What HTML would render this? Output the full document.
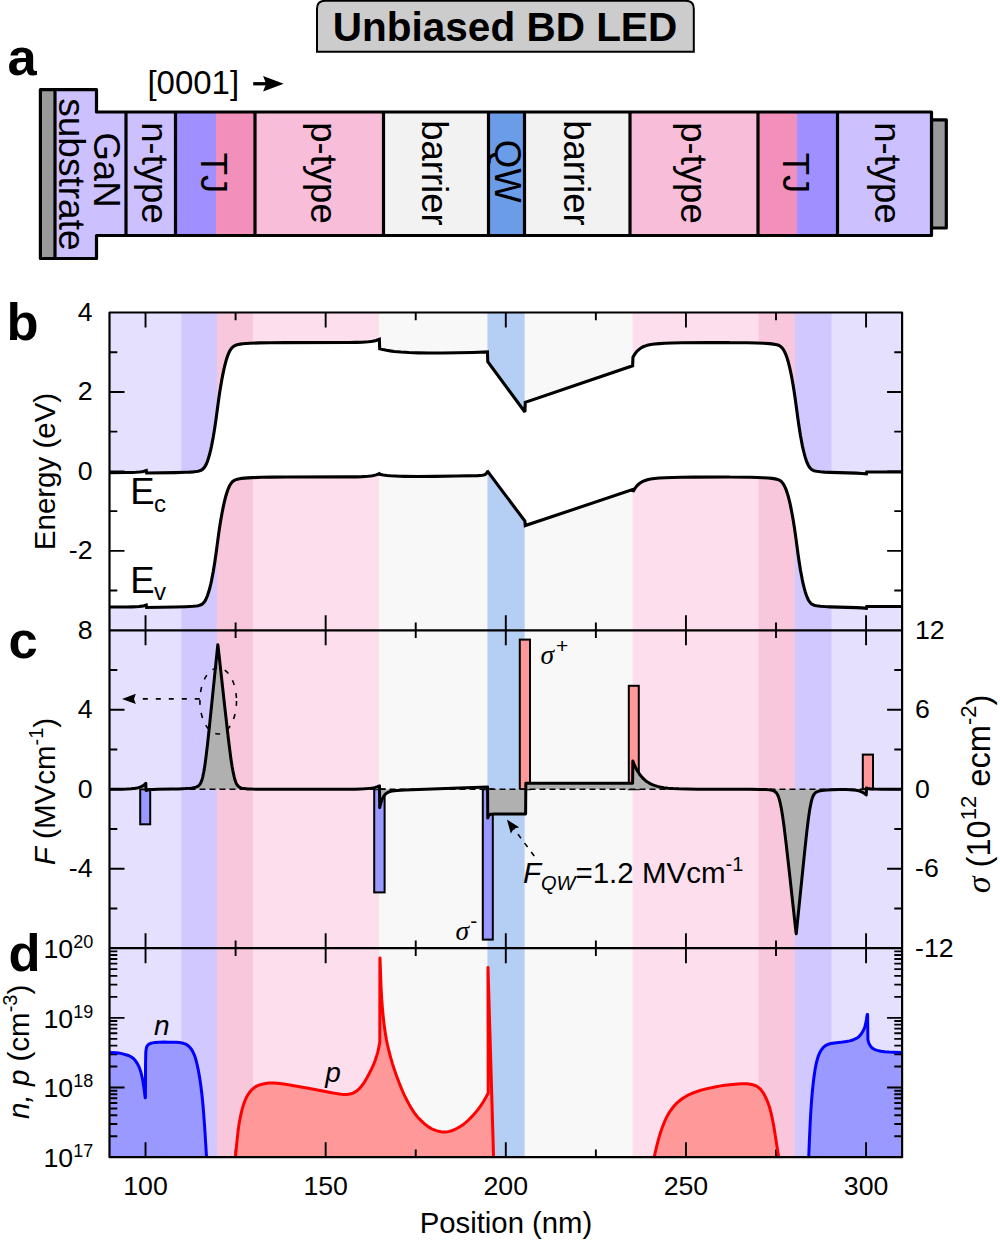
<!DOCTYPE html>
<html><head><meta charset="utf-8"><title>Unbiased BD LED</title>
<style>html,body{margin:0;padding:0;background:#fff;}svg{display:block;}</style>
</head><body>
<svg width="1000" height="1243" viewBox="0 0 1000 1243" font-family="Liberation Sans, sans-serif">
<rect x="0" y="0" width="1000" height="1243" fill="#ffffff"/>
<path d="M317 51.8 L317 9 Q317 0.8 325 0.8 L685.8 0.8 Q693.8 0.8 693.8 9 L693.8 51.8 Z" fill="#cccccc" stroke="#000" stroke-width="2"/>
<text x="505" y="41" font-size="40.5" font-weight="bold" text-anchor="middle">Unbiased BD LED</text>
<text x="7.6" y="75" font-size="52.5" font-weight="bold">a</text>
<text x="6.6" y="340" font-size="52.5" font-weight="bold">b</text>
<text x="8.5" y="658" font-size="52.5" font-weight="bold">c</text>
<text x="8.5" y="970.5" font-size="52.5" font-weight="bold">d</text>
<text x="147.4" y="93.6" font-size="33">[0001]</text>
<path d="M253.2 83.75 L267 83.75" stroke="#000" stroke-width="3.3" fill="none"/>
<path d="M283.7 83.75 L263.1 76 L266.1 83.75 L263.1 91.5 Z" fill="#000"/>
<rect x="931.5" y="119.8" width="14.8" height="108.2" fill="#999999" stroke="#000" stroke-width="3.2" stroke-linejoin="round"/>
<rect x="126" y="112" width="49.5" height="123.5" fill="#ccc0ff"/>
<rect x="175.5" y="112" width="40.5" height="123.5" fill="#a090ff"/>
<rect x="216" y="112" width="39" height="123.5" fill="#f28fba"/>
<rect x="255" y="112" width="128.5" height="123.5" fill="#f8bdd8"/>
<rect x="383.5" y="112" width="105" height="123.5" fill="#f2f2f2"/>
<rect x="488.5" y="112" width="36" height="123.5" fill="#6b9ce8"/>
<rect x="524.5" y="112" width="105.5" height="123.5" fill="#f2f2f2"/>
<rect x="630" y="112" width="128" height="123.5" fill="#f8bdd8"/>
<rect x="758" y="112" width="39" height="123.5" fill="#f28fba"/>
<rect x="797" y="112" width="40.5" height="123.5" fill="#a090ff"/>
<rect x="837.5" y="112" width="94" height="123.5" fill="#ccc0ff"/>
<path d="M55 90 L96.5 90 L96.5 112 L126 112 L126 235.5 L96.5 235.5 L96.5 258.5 L55 258.5 Z" fill="#ccc0ff"/>
<rect x="41" y="90" width="14" height="168.5" fill="#999999"/>
<path d="M40.4 89.6 L96.5 89.6 L96.5 112 L931.5 112 L931.5 235.5 L96.5 235.5 L96.5 258.5 L40.4 258.5 Z" fill="none" stroke="#000" stroke-width="3.2" stroke-linejoin="round"/>
<path d="M55 90 L55 258.5" stroke="#000" stroke-width="3.2" fill="none"/>
<path d="M126 112 L126 235.5" stroke="#000" stroke-width="3.2" fill="none"/>
<path d="M175.5 112 L175.5 235.5" stroke="#000" stroke-width="3.2" fill="none"/>
<path d="M255 112 L255 235.5" stroke="#000" stroke-width="3.2" fill="none"/>
<path d="M383.5 112 L383.5 235.5" stroke="#000" stroke-width="3.2" fill="none"/>
<path d="M488.5 112 L488.5 235.5" stroke="#000" stroke-width="3.2" fill="none"/>
<path d="M524.5 112 L524.5 235.5" stroke="#000" stroke-width="3.2" fill="none"/>
<path d="M630 112 L630 235.5" stroke="#000" stroke-width="3.2" fill="none"/>
<path d="M758 112 L758 235.5" stroke="#000" stroke-width="3.2" fill="none"/>
<path d="M837.5 112 L837.5 235.5" stroke="#000" stroke-width="3.2" fill="none"/>
<text transform="translate(59 174.4) rotate(90)" font-size="37.1" text-anchor="middle">substrate</text>
<text transform="translate(94 170) rotate(90)" font-size="36.5" text-anchor="middle">GaN</text>
<text transform="translate(141.5 172.95) rotate(90)" font-size="36.5" text-anchor="middle">n-type</text>
<text transform="translate(200.5 172.95) rotate(90)" font-size="36.5" text-anchor="middle">TJ</text>
<text transform="translate(310.5 172.95) rotate(90)" font-size="36.5" text-anchor="middle">p-type</text>
<text transform="translate(422.2 172.95) rotate(90)" font-size="36.5" text-anchor="middle">barrier</text>
<text transform="translate(494.5 171.25) rotate(90)" font-size="36.5" text-anchor="middle">QW</text>
<text transform="translate(563.5 172.95) rotate(90)" font-size="36.5" text-anchor="middle">barrier</text>
<text transform="translate(681 172.95) rotate(90)" font-size="36.5" text-anchor="middle">p-type</text>
<text transform="translate(783 172.95) rotate(90)" font-size="36.5" text-anchor="middle">TJ</text>
<text transform="translate(874.8 172.95) rotate(90)" font-size="36.5" text-anchor="middle">n-type</text>
<!-- panel backgrounds -->
<defs><clipPath id="cpb"><path d="M109.5 312.5 L109.5 472.59 L127.15 472.53 L132.2 472.44 L135.8 472.3 L139.04 472.06 L141.92 471.69 L144.09 471.25 L146.25 470.6 L146.61 473.05 L175.43 472.58 L185.52 472.29 L189.48 472.1 L193.08 471.84 L195.97 471.54 L198.13 471.19 L199.57 470.83 L201.01 470.29 L202.09 469.67 L203.17 468.78 L204.25 467.55 L205.33 465.9 L206.41 463.76 L207.49 461.09 L208.57 457.86 L209.66 454.05 L210.74 449.64 L211.46 446.36 L213.26 436.97 L214.7 428.2 L216.14 418.26 L218.66 399.43 L219.74 392.13 L220.82 385.4 L221.91 379.23 L222.99 373.63 L224.07 368.6 L225.15 364.12 L226.23 360.19 L227.31 356.8 L228.39 353.93 L229.47 351.57 L230.55 349.68 L231.27 348.64 L231.99 347.77 L232.71 347.05 L233.43 346.46 L234.87 345.59 L236.32 345.01 L238.12 344.53 L240.28 344.14 L242.8 343.82 L246.04 343.52 L249.65 343.29 L259.37 342.91 L270.18 342.7 L284.95 342.58 L349.08 342.45 L356.65 342.35 L362.41 342.18 L368.18 341.8 L370.34 341.56 L372.5 341.23 L374.3 340.87 L376.1 340.41 L377.9 339.82 L379.34 339.23 L379.7 348.68 L382.95 349.52 L386.55 350.28 L390.15 350.89 L394.12 351.42 L400.96 352.07 L408.89 352.54 L418.25 352.84 L429.06 352.98 L442.75 352.96 L457.52 352.78 L472.65 352.43 L487.43 351.95 L487.79 361.62 L524.89 412.04 L525.25 402.32 L632.62 365.79 L632.98 357.28 L634.06 355.32 L635.5 353.15 L636.58 351.79 L638.02 350.28 L639.1 349.34 L640.54 348.28 L641.98 347.41 L643.78 346.54 L645.59 345.85 L647.39 345.31 L650.63 344.59 L654.59 344.02 L659.28 343.59 L665.4 343.24 L672.97 342.99 L683.05 342.79 L711.52 342.57 L729.17 342.53 L729.53 342.58 L747.9 342.76 L758.35 343.02 L764.84 343.31 L770.24 343.72 L774.2 344.21 L775.64 344.48 L777.09 344.83 L778.17 345.19 L779.25 345.66 L779.97 346.06 L780.69 346.56 L781.41 347.18 L782.13 347.93 L782.85 348.83 L783.57 349.9 L784.29 351.15 L785.01 352.61 L786.09 355.2 L787.53 359.46 L788.61 363.28 L790.06 369.23 L791.14 374.34 L792.22 380.02 L793.3 386.25 L794.38 393.06 L795.46 400.43 L797.98 419.3 L799.06 426.77 L800.5 435.72 L801.94 443.53 L802.66 447.03 L803.75 451.76 L804.47 454.58 L805.55 458.32 L806.27 460.48 L807.35 463.26 L808.43 465.5 L809.51 467.24 L810.23 468.16 L811.31 469.22 L812.03 469.75 L813.11 470.35 L814.19 470.76 L815.63 471.14 L818.88 471.63 L822.84 471.99 L827.88 472.27 L854.54 473.08 L861.03 473.39 L866.43 473.77 L866.79 471.99 L902.1 472 L902.1 312.5 Z"/><path d="M109.5 630.3 L109.5 607.06 L127.15 607 L132.2 606.91 L135.8 606.77 L139.04 606.53 L141.92 606.16 L144.09 605.72 L146.25 605.07 L146.61 607.52 L176.51 607.02 L187.32 606.68 L191.28 606.45 L194.52 606.17 L197.05 605.85 L198.85 605.5 L200.29 605.06 L201.73 604.37 L202.81 603.58 L203.89 602.47 L204.97 600.97 L206.05 599 L207.13 596.51 L207.85 594.55 L208.94 591.13 L210.02 587.11 L211.1 582.5 L211.82 579.09 L213.26 571.44 L214.7 562.66 L216.14 552.73 L218.66 533.9 L219.74 526.6 L220.82 519.87 L221.91 513.7 L222.99 508.1 L224.07 503.07 L225.15 498.59 L226.23 494.66 L227.31 491.27 L228.39 488.4 L229.11 486.78 L229.83 485.36 L230.91 483.61 L231.63 482.66 L232.35 481.86 L233.07 481.21 L233.79 480.67 L235.24 479.89 L236.68 479.37 L238.48 478.92 L240.64 478.56 L243.16 478.25 L246.4 477.97 L250.37 477.72 L260.09 477.36 L270.9 477.16 L285.67 477.04 L349.08 476.91 L356.65 476.82 L362.41 476.65 L368.18 476.27 L370.34 476.03 L372.5 475.7 L374.3 475.34 L376.1 474.88 L377.9 474.29 L379.34 473.7 L379.7 474.4 L383.31 474.98 L386.91 475.42 L390.51 475.75 L394.84 476.02 L399.52 476.22 L404.92 476.37 L417.53 476.47 L434.11 476.38 L456.44 476.05 L477.7 475.6 L480.22 475.49 L482.02 475.33 L483.46 475.08 L484.54 474.72 L485.26 474.35 L485.98 473.79 L486.71 472.98 L487.43 471.77 L487.79 471.65 L524.89 521.05 L525.25 525.59 L632.62 489.58 L632.98 491.71 L634.42 489.17 L635.14 488.09 L636.22 486.67 L636.94 485.83 L638.02 484.73 L639.82 483.23 L640.9 482.5 L641.98 481.87 L643.06 481.32 L644.5 480.7 L645.95 480.2 L647.39 479.77 L650.63 479.06 L654.59 478.48 L659.28 478.05 L665.04 477.72 L672.61 477.47 L681.97 477.28 L694.22 477.14 L729.17 477 L729.53 477.05 L741.78 477.14 L751.51 477.3 L758.35 477.49 L764.12 477.74 L769.16 478.09 L773.12 478.52 L776 479.03 L778.17 479.65 L779.25 480.12 L779.97 480.53 L780.69 481.03 L781.41 481.65 L782.13 482.4 L782.85 483.3 L783.93 484.97 L784.65 486.32 L785.37 487.89 L786.45 490.65 L787.53 493.93 L788.61 497.75 L790.06 503.7 L791.14 508.81 L792.22 514.48 L793.3 520.72 L794.38 527.53 L795.46 534.9 L797.98 553.77 L799.06 561.24 L800.5 570.19 L802.3 579.78 L803.02 583.14 L804.11 587.67 L804.83 590.36 L805.91 593.9 L806.63 595.94 L807.71 598.53 L808.79 600.6 L809.87 602.19 L810.95 603.37 L812.03 604.22 L813.47 604.97 L814.91 605.44 L817.08 605.87 L819.6 606.18 L823.2 606.48 L827.52 606.73 L833.65 606.96 L854.54 607.55 L861.03 607.86 L866.43 608.24 L866.79 606.46 L902.1 606.46 L902.1 630.3 Z"/></clipPath></defs>
<g clip-path="url(#cpb)">
<rect x="109.5" y="312.5" width="71.7" height="317.8" fill="#e6e0ff"/>
<rect x="181.2" y="312.5" width="35.8" height="317.8" fill="#d0c8ff"/>
<rect x="217" y="312.5" width="36.4" height="317.8" fill="#f8c7dc"/>
<rect x="253.4" y="312.5" width="125.9" height="317.8" fill="#fcdeec"/>
<rect x="379.3" y="312.5" width="108.1" height="317.8" fill="#f8f8f8"/>
<rect x="487.4" y="312.5" width="37.4" height="317.8" fill="#b5cef4"/>
<rect x="524.8" y="312.5" width="107.8" height="317.8" fill="#f8f8f8"/>
<rect x="632.6" y="312.5" width="125.7" height="317.8" fill="#fcdeec"/>
<rect x="758.3" y="312.5" width="36.7" height="317.8" fill="#f8c7dc"/>
<rect x="795" y="312.5" width="36.8" height="317.8" fill="#d0c8ff"/>
<rect x="831.8" y="312.5" width="70.3" height="317.8" fill="#e6e0ff"/>
</g>
<rect x="109.5" y="630.3" width="71.7" height="526.9" fill="#e6e0ff"/>
<rect x="181.2" y="630.3" width="35.8" height="526.9" fill="#d0c8ff"/>
<rect x="217" y="630.3" width="36.4" height="526.9" fill="#f8c7dc"/>
<rect x="253.4" y="630.3" width="125.9" height="526.9" fill="#fcdeec"/>
<rect x="379.3" y="630.3" width="108.1" height="526.9" fill="#f8f8f8"/>
<rect x="487.4" y="630.3" width="37.4" height="526.9" fill="#b5cef4"/>
<rect x="524.8" y="630.3" width="107.8" height="526.9" fill="#f8f8f8"/>
<rect x="632.6" y="630.3" width="125.7" height="526.9" fill="#fcdeec"/>
<rect x="758.3" y="630.3" width="36.7" height="526.9" fill="#f8c7dc"/>
<rect x="795" y="630.3" width="36.8" height="526.9" fill="#d0c8ff"/>
<rect x="831.8" y="630.3" width="70.3" height="526.9" fill="#e6e0ff"/>
<rect x="140.2" y="789.25" width="10" height="35.05" fill="#9999ff" stroke="#000" stroke-width="2"/>
<rect x="374.2" y="789.25" width="10.4" height="103.15" fill="#9999ff" stroke="#000" stroke-width="2"/>
<rect x="482.8" y="789.25" width="10" height="150.35" fill="#9999ff" stroke="#000" stroke-width="2"/>
<rect x="519.8" y="639.6" width="10.2" height="149.65" fill="#ff9999" stroke="#000" stroke-width="2"/>
<rect x="628.8" y="685.8" width="10" height="103.45" fill="#ff9999" stroke="#000" stroke-width="2"/>
<rect x="862.8" y="754.6" width="10.2" height="34.65" fill="#ff9999" stroke="#000" stroke-width="2"/>
<path d="M109.5 789.25 L120.31 789.18 L126.58 789.04 L131.33 788.77 L135.22 788.31 L136.95 787.98 L138.47 787.6 L139.98 787.1 L141.28 786.56 L142.57 785.89 L143.65 785.19 L144.73 784.36 L145.82 783.35 L146.03 790.57 L147.54 790.11 L149.06 789.81 L151 789.56 L153.17 789.41 L157.49 789.26 L171.32 789.09 L178.67 788.91 L185.37 788.59 L190.56 788.14 L192.51 787.88 L194.24 787.57 L195.53 787.25 L196.61 786.88 L197.48 786.48 L198.34 785.94 L199.21 785.17 L199.86 784.38 L200.72 782.94 L201.37 781.48 L202.23 778.85 L202.88 776.28 L203.75 772.04 L204.4 768.38 L205.04 764.17 L205.91 757.82 L207.42 745.16 L209.37 727.21 L217.8 644.72 L218.01 645.7 L224.93 708.43 L228.17 736.98 L230.34 754.45 L231.2 760.67 L232.06 766.24 L232.93 771.02 L234.23 777.14 L235.09 780.28 L235.52 781.54 L236.17 783.11 L236.6 783.97 L237.25 785.02 L237.9 785.83 L238.55 786.47 L239.2 786.96 L240.06 787.46 L240.93 787.83 L242.01 788.16 L244.39 788.6 L247.84 788.92 L252.38 789.1 L258.65 789.2 L332.58 789.25 L355.28 789.13 L360.25 789.02 L364.14 788.85 L367.6 788.61 L370.41 788.31 L373 787.9 L375.38 787.37 L377.54 786.71 L379.49 785.92 L379.7 807.64 L380.57 804.08 L381.65 800.66 L382.3 799.04 L382.95 797.69 L383.6 796.55 L384.24 795.59 L384.89 794.78 L385.76 793.9 L386.62 793.2 L387.49 792.64 L388.57 792.09 L389.65 791.67 L390.95 791.29 L392.24 791 L394.4 790.67 L397 790.41 L405 789.96 L459.04 788.09 L487.57 786.91 L487.79 818.12 L488 817.26 L488.43 816.05 L488.65 815.63 L489.08 815.04 L489.52 814.68 L489.95 814.45 L490.6 814.26 L491.24 814.17 L494.49 814.09 L525.61 814.09 L525.83 783.29 L632.62 783.29 L632.83 761.12 L633.91 763.8 L635.21 766.68 L636.51 769.23 L637.8 771.49 L639.1 773.5 L640.61 775.56 L642.13 777.35 L643.64 778.9 L645.37 780.43 L647.1 781.74 L648.83 782.85 L650.77 783.9 L652.94 784.87 L655.1 785.66 L657.47 786.37 L659.85 786.94 L663.74 787.64 L668.07 788.17 L673.04 788.57 L679.09 788.86 L687.09 789.06 L697.9 789.18 L749.56 789.27 L761.02 789.38 L765.99 789.57 L769.45 789.87 L770.74 790.06 L772.04 790.34 L773.12 790.67 L773.99 791.04 L774.85 791.54 L775.5 792.03 L776.15 792.67 L776.8 793.48 L777.45 794.53 L777.88 795.39 L778.74 797.56 L779.61 800.49 L780.26 803.26 L781.34 808.59 L782.42 814.95 L783.28 820.86 L784.15 827.35 L786.09 843.36 L789.33 872.02 L796.04 932.8 L796.25 933.78 L804.68 851.29 L806.63 833.35 L808.14 820.68 L809.01 814.33 L809.65 810.12 L810.3 806.46 L811.17 802.22 L811.82 799.65 L812.68 797.03 L813.33 795.56 L814.19 794.12 L814.84 793.33 L815.49 792.73 L816.14 792.27 L817 791.8 L818.08 791.38 L819.17 791.08 L821.98 790.56 L826.51 790.07 L832.35 789.72 L839.27 789.53 L845.97 789.54 L850.08 789.67 L853.32 789.91 L856.13 790.28 L858.72 790.83 L860.88 791.53 L862.83 792.43 L864.56 793.53 L865.42 794.21 L866.29 795.01 L866.51 787.88 L868.02 788.35 L869.96 788.73 L872.13 788.97 L874.72 789.11 L882.07 789.23 L902.1 789.25 Z" fill="#b0b0b0"/>
<path d="M109.5 789.25 L902.1 789.25" stroke="#000" stroke-width="1.3" stroke-dasharray="6 4" fill="none"/>
<path d="M109.5 789.24 L120.09 789.18 L126.58 789.04 L131.33 788.77 L135.22 788.31 L136.95 787.98 L138.47 787.6 L139.98 787.1 L141.28 786.56 L142.57 785.89 L143.65 785.19 L144.73 784.36 L145.82 783.35 L146.03 790.57 L147.54 790.11 L149.06 789.81 L151 789.56 L153.17 789.41 L157.49 789.26 L171.32 789.09 L178.67 788.91 L185.37 788.59 L190.56 788.14 L192.51 787.88 L194.24 787.57 L195.53 787.25 L196.61 786.88 L197.48 786.48 L198.34 785.94 L199.21 785.17 L199.86 784.38 L200.72 782.94 L201.37 781.48 L202.23 778.85 L202.88 776.28 L203.75 772.04 L204.4 768.38 L205.04 764.17 L205.91 757.82 L207.42 745.16 L209.37 727.21 L217.8 644.72 L218.01 645.7 L224.93 708.43 L228.17 736.98 L230.34 754.45 L231.2 760.67 L232.06 766.24 L232.93 771.02 L234.23 777.14 L235.09 780.28 L235.52 781.54 L236.17 783.11 L236.6 783.97 L237.25 785.02 L237.9 785.83 L238.55 786.47 L239.2 786.96 L240.06 787.46 L240.93 787.83 L242.01 788.16 L244.39 788.6 L247.84 788.92 L252.38 789.1 L258.65 789.2 L332.58 789.25 L355.28 789.13 L360.25 789.02 L364.14 788.85 L367.6 788.61 L370.41 788.31 L373 787.9 L375.38 787.37 L377.54 786.71 L379.49 785.92 L379.7 807.64 L380.57 804.08 L381.65 800.66 L382.3 799.04 L382.95 797.69 L383.6 796.55 L384.24 795.59 L384.89 794.78 L385.76 793.9 L386.62 793.2 L387.49 792.64 L388.57 792.09 L389.65 791.67 L390.95 791.29 L392.24 791 L394.4 790.67 L397 790.41 L405 789.96 L459.04 788.09 L487.57 786.91 L487.79 818.12 L488 817.26 L488.43 816.05 L488.65 815.63 L489.08 815.04 L489.52 814.68 L489.95 814.45 L490.6 814.26 L491.24 814.17 L494.49 814.09 L525.61 814.09 L525.83 783.29 L632.62 783.29 L632.83 761.12 L633.91 763.8 L635.21 766.68 L636.51 769.23 L637.8 771.49 L639.1 773.5 L640.61 775.56 L642.13 777.35 L643.64 778.9 L645.37 780.43 L647.1 781.74 L648.83 782.85 L650.77 783.9 L652.94 784.87 L655.1 785.66 L657.47 786.37 L659.85 786.94 L663.74 787.64 L668.07 788.17 L673.04 788.57 L679.09 788.86 L687.09 789.06 L697.9 789.18 L749.56 789.27 L761.02 789.38 L765.99 789.57 L769.45 789.87 L770.74 790.06 L772.04 790.34 L773.12 790.67 L773.99 791.04 L774.85 791.54 L775.5 792.03 L776.15 792.67 L776.8 793.48 L777.45 794.53 L777.88 795.39 L778.74 797.56 L779.61 800.49 L780.26 803.26 L781.34 808.59 L782.42 814.95 L783.28 820.86 L784.15 827.35 L786.09 843.36 L789.33 872.02 L796.04 932.8 L796.25 933.78 L804.68 851.29 L806.63 833.35 L808.14 820.68 L809.01 814.33 L809.65 810.12 L810.3 806.46 L811.17 802.22 L811.82 799.65 L812.68 797.03 L813.33 795.56 L814.19 794.12 L814.84 793.33 L815.49 792.73 L816.14 792.27 L817 791.8 L818.08 791.38 L819.17 791.08 L821.98 790.56 L826.51 790.07 L832.35 789.72 L839.27 789.53 L845.97 789.54 L850.08 789.67 L853.32 789.91 L856.13 790.28 L858.72 790.83 L860.88 791.53 L862.83 792.43 L864.56 793.53 L865.42 794.21 L866.29 795.01 L866.51 787.88 L868.02 788.35 L869.96 788.73 L872.13 788.97 L874.72 789.11 L881.85 789.23 L901.96 789.25" fill="none" stroke="#000" stroke-width="3" stroke-linejoin="round"/>
<ellipse cx="218.2" cy="701" rx="18.3" ry="33" fill="none" stroke="#000" stroke-width="1.6" stroke-dasharray="5 8"/>
<path d="M199.8 698.9 L136 698.9" stroke="#000" stroke-width="1.6" stroke-dasharray="5 8" fill="none"/>
<path d="M122 698.9 L135.8 693.7 L134 698.9 L135.8 704.1 Z" fill="#000"/>
<path d="M534.2 855.9 L512.5 827" stroke="#000" stroke-width="1.6" stroke-dasharray="5 6" fill="none"/>
<path d="M506.9 819.5 L519.16 827.18 L513.8 828.7 L510.84 833.42 Z" fill="#000"/>
<text x="523" y="882.6" font-size="29.5"><tspan font-style="italic">F</tspan><tspan font-style="italic" font-size="20" dy="7.5">QW</tspan><tspan dy="-7.5">=1.2 MVcm</tspan><tspan font-size="20" dy="-12">-1</tspan></text>
<text x="540.5" y="663.6" font-size="27.5" font-style="italic" font-family="Liberation Serif, serif">σ</text><text x="556" y="652.5" font-size="21">+</text>
<text x="455.5" y="940" font-size="27.5" font-style="italic" font-family="Liberation Serif, serif">σ</text><text x="470.3" y="928" font-size="21">-</text>
<defs><clipPath id="cpd"><rect x="109.5" y="948.2" width="792.6" height="210.5"/></clipPath></defs>
<g clip-path="url(#cpd)">
<path d="M109.5 1157.2 L109.5 1052.6 L115.85 1052.83 L118.59 1053.07 L121.7 1053.63 L126.62 1054.93 L128.24 1055.48 L129.37 1055.97 L130.79 1056.7 L131.78 1057.3 L132.7 1057.97 L133.56 1058.69 L134.35 1059.46 L135.31 1060.58 L136.23 1061.82 L137.1 1063.18 L137.92 1064.64 L138.69 1066.2 L139.38 1067.84 L140.03 1069.59 L140.81 1072 L141.39 1074.11 L142.32 1078.09 L143.1 1082.5 L144.2 1089.77 L145.2 1097.8 L145.4 1097.5 L145.54 1065.15 L145.73 1054.11 L145.84 1051.75 L146.03 1050.12 L146.41 1047.91 L146.75 1046.74 L147.03 1046.17 L147.37 1045.7 L148.24 1044.76 L148.75 1044.33 L149.31 1043.96 L149.94 1043.65 L150.67 1043.37 L152 1043 L154.22 1042.61 L156.89 1042.36 L160.87 1042.17 L165.88 1042.1 L170.07 1042.14 L174.72 1042.29 L177.34 1042.41 L179.79 1042.63 L181.3 1042.85 L183.3 1043.33 L185.03 1043.89 L186.08 1044.36 L187.54 1045.24 L188.97 1046.43 L189.89 1047.38 L191.19 1049 L192 1050.22 L193.14 1052.26 L193.85 1053.76 L194.8 1056.19 L195.65 1058.86 L196.73 1062.9 L197.53 1066.33 L198.56 1071.44 L199.3 1075.6 L200.23 1081.52 L200.9 1086.3 L201.74 1093.04 L202.85 1103.57 L203.76 1114.74 L204.67 1127.23 L206.6 1158 L206.6 1157.2 Z" fill="#9999ff"/>
<path d="M235.3 1157.2 L235.3 1158 L236.57 1144.92 L237.77 1133.96 L238.3 1129.43 L238.91 1124.94 L239.67 1120.53 L240.9 1114.54 L241.93 1110.19 L243.03 1106.2 L244.15 1102.77 L245.32 1099.79 L246.56 1097.15 L247.45 1095.53 L248.4 1094 L249.95 1091.88 L251.06 1090.6 L252.2 1089.43 L253.39 1088.38 L254.59 1087.43 L256.43 1086.25 L258.32 1085.37 L260.27 1084.7 L263.7 1083.84 L266.46 1083.33 L268.66 1083.1 L271.11 1083 L273.91 1083.06 L277.03 1083.27 L283.83 1084.04 L289.67 1084.92 L308.23 1088.31 L321.43 1090.77 L330.41 1092.52 L333.87 1093.13 L339.33 1093.97 L342.36 1094.38 L344.28 1094.53 L346.11 1094.55 L348.69 1094.3 L351.04 1093.8 L353.22 1093.03 L355.31 1091.94 L356.68 1091.02 L357.35 1090.5 L359.28 1088.7 L361.13 1086.61 L363.5 1083.5 L364.67 1081.76 L365.82 1079.85 L368.03 1075.81 L371.66 1068.72 L373.09 1065.67 L374.08 1063.32 L375.04 1060.79 L375.97 1058.11 L377.58 1052.82 L378.4 1049.47 L379.6 1043.2 L379.8 1043 L379.9 958 L380 958 L381.1 987.81 L381.66 998.19 L382.25 1006 L383.13 1015.65 L383.88 1022.83 L384.59 1028.35 L385.58 1034.86 L386.49 1039.95 L387.55 1045.07 L389.06 1051.48 L390.7 1057.7 L392.42 1063.59 L394.25 1069.26 L396.53 1075.89 L398.94 1082.34 L401.59 1088.85 L403.97 1094.29 L406.03 1098.57 L408.89 1104.03 L411.25 1108.15 L413.5 1111.66 L414.57 1113.17 L416.17 1115.25 L417.82 1117.2 L419.62 1119.16 L422.91 1122.41 L425.65 1124.77 L427 1125.8 L428.98 1127.16 L430.94 1128.34 L432.26 1129.03 L435 1130.2 L437.18 1130.92 L438.68 1131.32 L440.96 1131.76 L442.49 1131.94 L444.75 1131.99 L446.23 1131.89 L447.7 1131.69 L449.18 1131.39 L450.68 1130.99 L452.21 1130.49 L453.8 1129.88 L455.48 1129.13 L457.2 1128.26 L460.62 1126.28 L463.74 1124.16 L465.87 1122.44 L468.51 1119.99 L472.76 1115.67 L475.5 1112.59 L478.12 1109.33 L480.67 1105.81 L483.5 1101.5 L485.33 1098.35 L488.2 1093 L488 967.5 L493.6 1157.2 Z" fill="#ff9999"/>
<path d="M654 1157.2 L654 1158 L656.71 1146.16 L658.55 1139.16 L659.91 1134.42 L661 1131 L662.18 1127.68 L663.87 1123.35 L665.16 1120.33 L666.41 1117.65 L667.98 1114.65 L669.19 1112.65 L671 1110 L673.07 1107.25 L675.37 1104.56 L677.31 1102.62 L679.47 1100.77 L681.85 1098.98 L684.41 1097.27 L687.09 1095.69 L689.88 1094.27 L692.86 1093 L695.93 1091.86 L700 1090.5 L703.05 1089.62 L707.14 1088.65 L716.16 1086.72 L719.34 1086.12 L722.99 1085.56 L729.59 1084.73 L735 1084.2 L740.83 1083.8 L745.07 1083.69 L747.11 1083.76 L748.77 1083.93 L750.19 1084.18 L752.91 1084.82 L754.61 1085.3 L755.81 1085.77 L756.6 1086.17 L757.78 1086.92 L758.94 1087.82 L760.06 1088.87 L761.14 1090.07 L762.53 1091.86 L763.52 1093.35 L764.5 1095.04 L766.19 1098.47 L767.94 1102.64 L769.28 1106.47 L770.51 1110.76 L771.92 1116.76 L773 1122 L774.04 1127.74 L778.8 1158 L778.8 1157.2 Z" fill="#ff9999"/>
<path d="M808.7 1157.2 L809.5 1138 L810.55 1116.17 L811.57 1100.62 L812.5 1090 L813.26 1082.93 L813.88 1077.74 L814.77 1071.42 L815.46 1067.37 L816.41 1062.75 L817.17 1059.73 L818 1057 L818.91 1054.56 L819.55 1053.12 L820.56 1051.2 L821.63 1049.52 L822.75 1048.05 L823.52 1047.23 L824.72 1046.19 L826.04 1045.32 L827.51 1044.56 L828.61 1044.16 L829.77 1043.82 L834 1043 L835.75 1042.76 L840.42 1042.37 L843.97 1041.9 L847.45 1041.31 L850.62 1040.6 L853.07 1039.87 L855.34 1038.9 L857.04 1037.99 L858.62 1036.84 L859.37 1036.13 L860.11 1035.32 L860.81 1034.44 L861.81 1033 L863.26 1030.5 L864.39 1028.03 L865.15 1025.8 L865.85 1022.92 L866.35 1020.08 L867.2 1014.5 L867.6 1014.5 L867.9 1040 L868 1040 L868.66 1042.43 L869.3 1044.13 L870.18 1045.57 L871.26 1046.98 L871.9 1047.63 L872.61 1048.23 L873.4 1048.75 L874.7 1049.43 L875.66 1049.82 L877.23 1050.34 L879 1050.8 L880.93 1051.19 L884.56 1051.69 L889.01 1052.07 L893.99 1052.28 L901.5 1052.5 L901.5 1157.2 Z" fill="#9999ff"/>
</g>
<text x="154" y="1035" font-size="28" font-style="italic">n</text>
<text x="325.3" y="1082" font-size="28" font-style="italic">p</text>
<defs><clipPath id="cpb2"><rect x="109.5" y="312.5" width="792.6" height="317.8"/></clipPath></defs>
<g clip-path="url(#cpb2)">
<path d="M109.5 472.59 L127.15 472.53 L132.2 472.44 L135.8 472.3 L139.04 472.06 L141.92 471.69 L144.09 471.25 L146.25 470.6 L146.61 473.05 L175.43 472.58 L185.52 472.29 L189.48 472.1 L193.08 471.84 L195.97 471.54 L198.13 471.19 L199.57 470.83 L201.01 470.29 L202.09 469.67 L203.17 468.78 L204.25 467.55 L205.33 465.9 L206.41 463.76 L207.49 461.09 L208.57 457.86 L209.66 454.05 L210.74 449.64 L211.46 446.36 L213.26 436.97 L214.7 428.2 L216.14 418.26 L218.66 399.43 L219.74 392.13 L220.82 385.4 L221.91 379.23 L222.99 373.63 L224.07 368.6 L225.15 364.12 L226.23 360.19 L227.31 356.8 L228.39 353.93 L229.47 351.57 L230.55 349.68 L231.27 348.64 L231.99 347.77 L232.71 347.05 L233.43 346.46 L234.87 345.59 L236.32 345.01 L238.12 344.53 L240.28 344.14 L242.8 343.82 L246.04 343.52 L249.65 343.29 L259.37 342.91 L270.18 342.7 L284.95 342.58 L349.08 342.45 L356.65 342.35 L362.41 342.18 L368.18 341.8 L370.34 341.56 L372.5 341.23 L374.3 340.87 L376.1 340.41 L377.9 339.82 L379.34 339.23 L379.7 348.68 L382.95 349.52 L386.55 350.28 L390.15 350.89 L394.12 351.42 L400.96 352.07 L408.89 352.54 L418.25 352.84 L429.06 352.98 L442.75 352.96 L457.52 352.78 L472.65 352.43 L487.43 351.95 L487.79 361.62 L524.89 412.04 L525.25 402.32 L632.62 365.79 L632.98 357.28 L634.06 355.32 L635.5 353.15 L636.58 351.79 L638.02 350.28 L639.1 349.34 L640.54 348.28 L641.98 347.41 L643.78 346.54 L645.59 345.85 L647.39 345.31 L650.63 344.59 L654.59 344.02 L659.28 343.59 L664.68 343.27 L671.89 343.02 L681.25 342.82 L707.19 342.59 L729.17 342.53 L729.53 342.58 L746.82 342.74 L756.55 342.96 L763.39 343.23 L769.16 343.62 L773.48 344.1 L775.28 344.41 L776.73 344.73 L777.81 345.06 L778.89 345.48 L780.33 346.3 L781.05 346.85 L781.77 347.54 L782.49 348.36 L783.21 349.34 L783.93 350.5 L784.65 351.85 L785.73 354.28 L787.17 358.31 L788.25 361.94 L789.69 367.65 L790.78 372.57 L791.86 378.06 L792.94 384.11 L794.02 390.73 L795.1 397.91 L797.98 419.3 L799.06 426.77 L800.5 435.72 L802.3 445.32 L803.02 448.67 L804.11 453.2 L805.19 457.14 L806.27 460.48 L807.35 463.26 L808.43 465.5 L809.51 467.24 L810.59 468.55 L811.31 469.22 L812.39 469.98 L813.11 470.35 L814.19 470.76 L815.27 471.06 L816.72 471.34 L820.32 471.78 L824.64 472.1 L830.05 472.36 L856.35 473.16 L861.75 473.44 L866.43 473.77 L866.79 471.99 L902.1 472" fill="none" stroke="#000" stroke-width="3.1" stroke-linejoin="miter" stroke-miterlimit="2.6"/>
<path d="M109.5 607.06 L127.15 607 L132.2 606.91 L135.8 606.77 L139.04 606.53 L141.92 606.16 L144.09 605.72 L146.25 605.07 L146.61 607.52 L175.43 607.05 L185.52 606.76 L189.48 606.56 L193.08 606.31 L195.97 606 L198.13 605.66 L199.57 605.3 L201.01 604.76 L202.09 604.14 L203.17 603.25 L204.25 602.01 L205.33 600.37 L206.41 598.23 L207.49 595.56 L208.57 592.33 L209.66 588.52 L210.74 584.11 L211.46 580.83 L213.26 571.44 L214.7 562.66 L216.14 552.73 L218.66 533.9 L219.74 526.6 L220.82 519.87 L221.91 513.7 L222.99 508.1 L224.07 503.07 L225.51 497.21 L226.59 493.47 L227.67 490.25 L228.75 487.56 L229.47 486.04 L230.19 484.73 L231.27 483.11 L231.99 482.24 L232.71 481.52 L233.43 480.93 L234.15 480.45 L234.87 480.06 L235.96 479.61 L237.4 479.17 L239.56 478.72 L241.72 478.41 L244.6 478.11 L251.81 477.65 L261.54 477.32 L272.34 477.14 L286.75 477.04 L348.72 476.92 L356.29 476.83 L362.05 476.67 L367.82 476.3 L370.34 476.03 L372.5 475.7 L374.3 475.34 L376.1 474.88 L377.9 474.29 L379.34 473.7 L379.7 474.4 L383.31 474.98 L386.91 475.42 L390.51 475.75 L394.84 476.02 L399.52 476.22 L404.92 476.37 L417.53 476.47 L434.11 476.38 L456.44 476.05 L477.7 475.6 L480.22 475.49 L482.02 475.33 L483.46 475.08 L484.54 474.72 L485.26 474.35 L485.98 473.79 L486.71 472.98 L487.43 471.77 L487.79 471.65 L524.89 521.05 L525.25 525.59 L632.62 489.58 L632.98 491.71 L634.42 489.17 L635.14 488.09 L636.22 486.67 L636.94 485.83 L638.02 484.73 L639.82 483.23 L640.9 482.5 L641.98 481.87 L643.06 481.32 L644.5 480.7 L645.95 480.2 L647.39 479.77 L650.63 479.06 L654.59 478.48 L659.28 478.05 L665.04 477.72 L672.61 477.47 L681.97 477.28 L694.22 477.14 L729.17 477 L729.53 477.05 L750.79 477.28 L757.63 477.46 L763.03 477.68 L768.08 478 L772.04 478.38 L775.28 478.88 L777.45 479.41 L779.25 480.12 L779.97 480.53 L780.69 481.03 L781.41 481.65 L782.13 482.4 L782.85 483.3 L783.57 484.37 L784.29 485.62 L785.01 487.08 L786.09 489.67 L787.53 493.93 L788.61 497.75 L790.06 503.7 L791.14 508.81 L792.22 514.48 L793.3 520.72 L794.38 527.53 L795.46 534.9 L797.98 553.77 L799.06 561.24 L800.5 570.19 L802.3 579.78 L803.02 583.14 L804.11 587.67 L805.19 591.61 L806.27 594.95 L807.35 597.73 L808.43 599.97 L809.51 601.71 L810.59 603.02 L811.31 603.69 L812.39 604.44 L813.11 604.81 L814.19 605.23 L815.27 605.52 L816.72 605.81 L820.32 606.25 L824.64 606.57 L830.05 606.83 L856.35 607.63 L861.75 607.9 L866.43 608.24 L866.79 606.46 L902.1 606.46" fill="none" stroke="#000" stroke-width="3.1" stroke-linejoin="miter" stroke-miterlimit="2.6"/>
</g>
<text x="130.3" y="504.3" font-size="36.5">E<tspan font-size="24" dy="7.5" dx="-0.7">c</tspan></text>
<text x="130.3" y="592.5" font-size="36.5">E<tspan font-size="24" dy="7.5" dx="-0.7">v</tspan></text>
<path d="M145.53 312.5 L145.53 327.5 M145.53 615.3 L145.53 645.3 M145.53 933.2 L145.53 963.2 M145.53 1142.2 L145.53 1157.2 M235.6 312.5 L235.6 320.3 M235.6 622.5 L235.6 638.1 M235.6 940.4 L235.6 956 M235.6 1149.4 L235.6 1157.2 M325.66 312.5 L325.66 327.5 M325.66 615.3 L325.66 645.3 M325.66 933.2 L325.66 963.2 M325.66 1142.2 L325.66 1157.2 M415.73 312.5 L415.73 320.3 M415.73 622.5 L415.73 638.1 M415.73 940.4 L415.73 956 M415.73 1149.4 L415.73 1157.2 M505.8 312.5 L505.8 327.5 M505.8 615.3 L505.8 645.3 M505.8 933.2 L505.8 963.2 M505.8 1142.2 L505.8 1157.2 M595.87 312.5 L595.87 320.3 M595.87 622.5 L595.87 638.1 M595.87 940.4 L595.87 956 M595.87 1149.4 L595.87 1157.2 M685.94 312.5 L685.94 327.5 M685.94 615.3 L685.94 645.3 M685.94 933.2 L685.94 963.2 M685.94 1142.2 L685.94 1157.2 M776 312.5 L776 320.3 M776 622.5 L776 638.1 M776 940.4 L776 956 M776 1149.4 L776 1157.2 M866.07 312.5 L866.07 327.5 M866.07 615.3 L866.07 645.3 M866.07 933.2 L866.07 963.2 M866.07 1142.2 L866.07 1157.2 M109.5 590.57 L117.3 590.57 M902.1 590.57 L894.3 590.57 M109.5 550.85 L124.5 550.85 M902.1 550.85 L887.1 550.85 M109.5 511.12 L117.3 511.12 M902.1 511.12 L894.3 511.12 M109.5 471.4 L124.5 471.4 M902.1 471.4 L887.1 471.4 M109.5 431.67 L117.3 431.67 M902.1 431.67 L894.3 431.67 M109.5 391.95 L124.5 391.95 M902.1 391.95 L887.1 391.95 M109.5 352.23 L117.3 352.23 M902.1 352.23 L894.3 352.23 M109.5 908.46 L117.3 908.46 M902.1 908.46 L894.3 908.46 M109.5 868.73 L124.5 868.73 M902.1 868.73 L887.1 868.73 M109.5 828.99 L117.3 828.99 M902.1 828.99 L894.3 828.99 M109.5 789.25 L124.5 789.25 M902.1 789.25 L887.1 789.25 M109.5 749.51 L117.3 749.51 M902.1 749.51 L894.3 749.51 M109.5 709.77 L124.5 709.77 M902.1 709.77 L887.1 709.77 M109.5 670.04 L117.3 670.04 M902.1 670.04 L894.3 670.04 M109.5 1136.23 L117.3 1136.23 M902.1 1136.23 L894.3 1136.23 M109.5 1123.96 L117.3 1123.96 M902.1 1123.96 L894.3 1123.96 M109.5 1115.26 L117.3 1115.26 M902.1 1115.26 L894.3 1115.26 M109.5 1108.51 L117.3 1108.51 M902.1 1108.51 L894.3 1108.51 M109.5 1102.99 L117.3 1102.99 M902.1 1102.99 L894.3 1102.99 M109.5 1098.32 L117.3 1098.32 M902.1 1098.32 L894.3 1098.32 M109.5 1094.28 L117.3 1094.28 M902.1 1094.28 L894.3 1094.28 M109.5 1090.72 L117.3 1090.72 M902.1 1090.72 L894.3 1090.72 M109.5 1087.53 L124.5 1087.53 M902.1 1087.53 L887.1 1087.53 M109.5 1066.56 L117.3 1066.56 M902.1 1066.56 L894.3 1066.56 M109.5 1054.29 L117.3 1054.29 M902.1 1054.29 L894.3 1054.29 M109.5 1045.59 L117.3 1045.59 M902.1 1045.59 L894.3 1045.59 M109.5 1038.84 L117.3 1038.84 M902.1 1038.84 L894.3 1038.84 M109.5 1033.32 L117.3 1033.32 M902.1 1033.32 L894.3 1033.32 M109.5 1028.66 L117.3 1028.66 M902.1 1028.66 L894.3 1028.66 M109.5 1024.62 L117.3 1024.62 M902.1 1024.62 L894.3 1024.62 M109.5 1021.05 L117.3 1021.05 M902.1 1021.05 L894.3 1021.05 M109.5 1017.87 L124.5 1017.87 M902.1 1017.87 L887.1 1017.87 M109.5 996.89 L117.3 996.89 M902.1 996.89 L894.3 996.89 M109.5 984.63 L117.3 984.63 M902.1 984.63 L894.3 984.63 M109.5 975.92 L117.3 975.92 M902.1 975.92 L894.3 975.92 M109.5 969.17 L117.3 969.17 M902.1 969.17 L894.3 969.17 M109.5 963.66 L117.3 963.66 M902.1 963.66 L894.3 963.66 M109.5 958.99 L117.3 958.99 M902.1 958.99 L894.3 958.99 M109.5 954.95 L117.3 954.95 M902.1 954.95 L894.3 954.95 M109.5 951.39 L117.3 951.39 M902.1 951.39 L894.3 951.39" stroke="#000" stroke-width="1.9" fill="none"/>
<g clip-path="url(#cpd)">
<path d="M109.5 1052.6 L115.85 1052.83 L118.59 1053.07 L121.7 1053.63 L126.62 1054.93 L128.24 1055.48 L129.37 1055.97 L130.79 1056.7 L131.78 1057.3 L132.7 1057.97 L133.56 1058.69 L134.35 1059.46 L135.31 1060.58 L136.23 1061.82 L137.1 1063.18 L137.92 1064.64 L138.69 1066.2 L139.38 1067.84 L140.03 1069.59 L140.81 1072 L141.39 1074.11 L142.32 1078.09 L143.1 1082.5 L144.2 1089.77 L145.2 1097.8 L145.4 1097.5 L145.54 1065.15 L145.76 1053.18 L145.96 1050.64 L146.41 1047.91 L146.63 1047.07 L146.89 1046.44 L147.19 1045.93 L147.56 1045.47 L148.24 1044.76 L148.75 1044.33 L149.61 1043.8 L150.29 1043.5 L151.08 1043.24 L152.51 1042.89 L154.85 1042.54 L159.18 1042.23 L163.78 1042.11 L170.07 1042.14 L176.49 1042.37 L179 1042.54 L181.3 1042.85 L183.3 1043.33 L185.03 1043.89 L186.57 1044.62 L187.54 1045.24 L188.97 1046.43 L189.89 1047.38 L190.77 1048.43 L191.6 1049.6 L192.39 1050.88 L193.14 1052.26 L194.18 1054.54 L195.38 1057.94 L196.46 1061.83 L197.8 1067.55 L198.81 1072.8 L200 1080 L200.9 1086.3 L201.74 1093.04 L202.5 1100 L203.17 1107.26 L204.67 1127.23 L206.6 1158" fill="none" stroke="#0000ff" stroke-width="3" stroke-linejoin="round"/>
<path d="M235.3 1158 L236.93 1141.56 L238.11 1130.94 L238.69 1126.43 L239.4 1122 L240.57 1116.04 L241.58 1111.61 L242.66 1107.47 L243.78 1103.86 L244.93 1100.74 L246.14 1098 L247 1096.33 L247.92 1094.76 L249.42 1092.56 L250.5 1091.22 L251.62 1090 L253.39 1088.38 L254.59 1087.43 L255.81 1086.6 L257.68 1085.63 L259.61 1084.91 L263 1084 L265.76 1083.44 L268.66 1083.1 L271.11 1083 L273.91 1083.06 L277.03 1083.27 L283.83 1084.04 L289.67 1084.92 L308.23 1088.31 L321.43 1090.77 L330.41 1092.52 L333.87 1093.13 L339.33 1093.97 L342.36 1094.38 L344.28 1094.53 L346.11 1094.55 L348.69 1094.3 L351.04 1093.8 L353.22 1093.03 L355.31 1091.94 L356.68 1091.02 L357.35 1090.5 L359.28 1088.7 L361.13 1086.61 L363.5 1083.5 L364.67 1081.76 L365.82 1079.85 L368.03 1075.81 L371.66 1068.72 L373.09 1065.67 L374.08 1063.32 L375.04 1060.79 L375.97 1058.11 L377.58 1052.82 L378.4 1049.47 L379.6 1043.2 L379.8 1043 L379.9 958 L380 958 L381.1 987.81 L381.66 998.19 L382.25 1006 L383.13 1015.65 L383.88 1022.83 L384.59 1028.35 L385.58 1034.86 L386.49 1039.95 L387.55 1045.07 L389.06 1051.48 L390.7 1057.7 L392.42 1063.59 L394.25 1069.26 L396.53 1075.89 L398.94 1082.34 L401.59 1088.85 L403.97 1094.29 L406.03 1098.57 L408.89 1104.03 L411.25 1108.15 L413.5 1111.66 L414.57 1113.17 L416.17 1115.25 L417.82 1117.2 L419.62 1119.16 L422.91 1122.41 L425.65 1124.77 L427 1125.8 L428.98 1127.16 L430.94 1128.34 L432.26 1129.03 L435 1130.2 L437.18 1130.92 L438.68 1131.32 L440.96 1131.76 L442.49 1131.94 L444.75 1131.99 L446.23 1131.89 L447.7 1131.69 L449.18 1131.39 L450.68 1130.99 L452.21 1130.49 L453.8 1129.88 L455.48 1129.13 L457.2 1128.26 L460.62 1126.28 L463.74 1124.16 L465.87 1122.44 L468.51 1119.99 L472.76 1115.67 L475.5 1112.59 L478.12 1109.33 L480.67 1105.81 L483.5 1101.5 L485.33 1098.35 L488.2 1093 L488 967.5 L493.6 1158" fill="none" stroke="#ff0000" stroke-width="3" stroke-linejoin="round"/>
<path d="M654 1158 L656.71 1146.16 L658.22 1140.35 L659.56 1135.59 L660.63 1132.12 L662.18 1127.68 L663.87 1123.35 L665.16 1120.33 L666.41 1117.65 L667.98 1114.65 L669.19 1112.65 L671 1110 L673.07 1107.25 L675.37 1104.56 L677.31 1102.62 L679.47 1100.77 L681.85 1098.98 L684.41 1097.27 L687.09 1095.69 L689.88 1094.27 L692.86 1093 L695.93 1091.86 L700 1090.5 L703.05 1089.62 L707.14 1088.65 L716.16 1086.72 L719.34 1086.12 L722.99 1085.56 L729.59 1084.73 L735 1084.2 L740.83 1083.8 L745.07 1083.69 L747.11 1083.76 L748.77 1083.93 L750.19 1084.18 L752.91 1084.82 L754.61 1085.3 L755.81 1085.77 L756.6 1086.17 L757.78 1086.92 L758.94 1087.82 L760.06 1088.87 L761.14 1090.07 L762.53 1091.86 L763.52 1093.35 L764.5 1095.04 L766.19 1098.47 L767.94 1102.64 L768.96 1105.47 L769.6 1107.5 L770.8 1111.91 L772.19 1118.04 L773.26 1123.38 L774.29 1129.25 L778.8 1158" fill="none" stroke="#ff0000" stroke-width="3" stroke-linejoin="round"/>
<path d="M808.7 1158 L809.33 1141.91 L809.88 1129.63 L810.44 1118.36 L810.93 1110.02 L811.57 1100.62 L812.17 1093.5 L813.06 1084.7 L813.88 1077.74 L814.77 1071.42 L815.46 1067.37 L816.41 1062.75 L817.44 1058.8 L818.6 1055.33 L819.22 1053.82 L819.88 1052.45 L821.26 1050.06 L822.75 1048.05 L823.91 1046.86 L824.72 1046.19 L825.59 1045.59 L827.51 1044.56 L829.19 1043.98 L830.98 1043.55 L834.58 1042.9 L836.33 1042.7 L840.42 1042.37 L842.77 1042.07 L846.32 1041.53 L849.59 1040.85 L852.11 1040.19 L854 1039.5 L856.2 1038.47 L857.84 1037.46 L858.62 1036.84 L859.37 1036.13 L860.11 1035.32 L861.16 1033.97 L862.72 1031.5 L863.51 1030.02 L864.19 1028.54 L864.97 1026.39 L865.68 1023.76 L866.35 1020.08 L867.2 1014.5 L867.6 1014.5 L867.9 1040 L868 1040 L868.66 1042.43 L869.3 1044.13 L870.18 1045.57 L871.26 1046.98 L871.9 1047.63 L872.61 1048.23 L873.4 1048.75 L874.7 1049.43 L875.66 1049.82 L877.23 1050.34 L879 1050.8 L880.93 1051.19 L884.56 1051.69 L889.01 1052.07 L893.99 1052.28 L901.5 1052.5" fill="none" stroke="#0000ff" stroke-width="3" stroke-linejoin="round"/>
</g>
<rect x="109.5" y="312.5" width="792.6" height="844.7" fill="none" stroke="#000" stroke-width="2.2" stroke-linejoin="round"/>
<path d="M109.5 630.3 L902.1 630.3 M109.5 948.2 L902.1 948.2" stroke="#000" stroke-width="2.2" fill="none"/>
<text x="92.5" y="320.9" font-size="26.7" text-anchor="end">4</text>
<text x="92.5" y="400.35" font-size="26.7" text-anchor="end">2</text>
<text x="92.5" y="479.8" font-size="26.7" text-anchor="end">0</text>
<text x="92.5" y="559.25" font-size="26.7" text-anchor="end">-2</text>
<text x="92.5" y="638.7" font-size="26.7" text-anchor="end">8</text>
<text x="92.5" y="718.17" font-size="26.7" text-anchor="end">4</text>
<text x="92.5" y="797.65" font-size="26.7" text-anchor="end">0</text>
<text x="92.5" y="877.12" font-size="26.7" text-anchor="end">-4</text>
<text x="915" y="638.7" font-size="26.7" text-anchor="start">12</text>
<text x="915" y="718.17" font-size="26.7" text-anchor="start">6</text>
<text x="915" y="797.65" font-size="26.7" text-anchor="start">0</text>
<text x="915" y="877.12" font-size="26.7" text-anchor="start">-6</text>
<text x="915" y="956.6" font-size="26.7" text-anchor="start">-12</text>
<text x="43.5" y="958" font-size="26.7">10<tspan font-size="18" dy="-10.1">20</tspan></text>
<text x="43.5" y="1027.67" font-size="26.7">10<tspan font-size="18" dy="-10.1">19</tspan></text>
<text x="43.5" y="1097.33" font-size="26.7">10<tspan font-size="18" dy="-10.1">18</tspan></text>
<text x="43.5" y="1167" font-size="26.7">10<tspan font-size="18" dy="-10.1">17</tspan></text>
<text x="145.53" y="1194.6" font-size="26.7" text-anchor="middle">100</text>
<text x="325.66" y="1194.6" font-size="26.7" text-anchor="middle">150</text>
<text x="505.8" y="1194.6" font-size="26.7" text-anchor="middle">200</text>
<text x="685.94" y="1194.6" font-size="26.7" text-anchor="middle">250</text>
<text x="866.07" y="1194.6" font-size="26.7" text-anchor="middle">300</text>
<text x="506" y="1232.6" font-size="29.3" text-anchor="middle">Position (nm)</text>
<text transform="translate(55 471.5) rotate(-90)" font-size="29.5" text-anchor="middle">Energy (eV)</text>
<text transform="translate(55 791.5) rotate(-90)" font-size="29.5" text-anchor="middle"><tspan font-style="italic">F</tspan> (MVcm<tspan font-size="20" dy="-12">-1</tspan><tspan dy="12">)</tspan></text>
<text transform="translate(29.3 1051.8) rotate(-90)" font-size="29.5" text-anchor="middle"><tspan font-style="italic">n, p</tspan> (cm<tspan font-size="20" dy="-12">-3</tspan><tspan dy="12">)</tspan></text>
<text transform="translate(989.6 794.0) rotate(-90)" font-size="32.65" text-anchor="middle"><tspan font-style="italic" font-family="Liberation Serif, serif" font-size="34">σ</tspan> (10<tspan font-size="22" dy="-13.2">12</tspan><tspan dy="13.2"> ecm</tspan><tspan font-size="22" dy="-13.2">-2</tspan><tspan dy="13.2">)</tspan></text>
</svg>
</body></html>
